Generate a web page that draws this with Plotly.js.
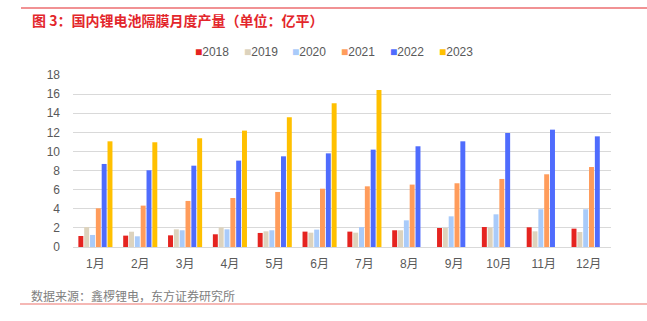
<!DOCTYPE html>
<html>
<head>
<meta charset="utf-8">
<script src="https://cdn.plot.ly/plotly-3.0.1.min.js"></script>
<style>
html,body{margin:0;padding:0;background:#fff;}
#chart{width:647px;height:321px;}
</style>
</head>
<body>
<div id="chart"></div>
<script>
const months = ["1月","2月","3月","4月","5月","6月","7月","8月","9月","10月","11月","12月"];
const years = ["2018","2019","2020","2021","2022","2023"];
const colors = ["#E52420","#DDD3BD","#A9CBFA","#FF9C5B","#4F6CFD","#FFC000"];
const v2018 = [1.15,1.19,1.22,1.33,1.47,1.61,1.61,1.75,1.99,2.09,2.06,1.92];
const v2019 = [2.09,1.60,1.85,2.06,1.64,1.50,1.50,1.75,1.99,2.02,1.64,1.57];
const v2020 = [1.26,1.12,1.75,1.85,1.75,1.82,2.09,2.79,3.21,3.42,3.95,3.95];
const v2021 = [4.05,4.33,4.82,5.13,5.76,6.10,6.35,6.53,6.67,7.12,7.61,8.37];
const v2022 = [8.69,8.03,8.51,9.04,9.49,9.80,10.19,10.54,11.06,11.93,12.28,11.58];
const v2023 = [11.06,10.96,11.38,12.18,13.57,15.04,16.43,null,null,null,null,null];
const series = [v2018,v2019,v2020,v2021,v2022,v2023];
const yTicks = [0,2,4,6,8,10,12,14,16,18];
const titleText = "图 3：国内锂电池隔膜月度产量（单位：亿平）";
const sourceText = "数据来源：鑫椤锂电，东方证券研究所";

const L = 73, R = 36, T = 75, B = 74, W = 647, H = 321;
const pw = W - L - R, ph = H - T - B;
const px = x => (x - L) / pw;
const py = y => (H - B - y) / ph;

const font = "Liberation Sans, Arial, Noto Sans CJK SC, sans-serif";

const traces = years.map((yr, i) => ({
  type: "bar",
  name: yr,
  x: months,
  y: series[i],
  marker: {color: colors[i], line: {width: 0}},
  hoverinfo: "x+y+name"
}));

const legendX = [194, 243, 291, 340, 389, 438];
const annotations = years.map((yr, i) => ({
  xref: "paper", yref: "paper",
  x: px(legendX[i] - 1), y: py(52),
  xanchor: "left", yanchor: "middle",
  showarrow: false,
  text: "<span style='color:" + colors[i] + ";font-size:12px'>■</span>" + yr,
  font: {family: font, size: 12, color: "#595959"}
}));
annotations.push({
  xref: "paper", yref: "paper", x: px(30), y: py(20),
  xanchor: "left", yanchor: "middle", showarrow: false,
  text: "<b>" + titleText + "</b>",
  font: {family: "Noto Sans CJK SC, sans-serif", size: 14, color: "#E3262B"}
});
annotations.push({
  xref: "paper", yref: "paper", x: px(29), y: py(295),
  xanchor: "left", yanchor: "middle", showarrow: false,
  text: sourceText,
  font: {family: "Noto Sans CJK SC, sans-serif", size: 12, color: "#808080"}
});

const layout = {
  width: W, height: H,
  margin: {l: L, r: R, t: T, b: B, pad: 0},
  paper_bgcolor: "#fff", plot_bgcolor: "#fff",
  showlegend: false,
  barmode: "group",
  bargap: 0.22,
  bargroupgap: 0.15,
  font: {family: font, size: 12, color: "#595959"},
  xaxis: {
    type: "category",
    showgrid: false,
    showline: true, linecolor: "#D9D9D9", linewidth: 1,
    ticks: "", ticklabelstandoff: 6,
    tickfont: {family: font, size: 12, color: "#595959"},
    fixedrange: true
  },
  yaxis: {
    range: [0, 18],
    tickvals: yTicks,
    ticktext: yTicks.map(String),
    showgrid: true, gridcolor: "#D9D9D9", gridwidth: 1,
    zeroline: false, showline: false,
    ticks: "", ticklabelstandoff: 12,
    tickfont: {family: font, size: 12, color: "#595959"},
    fixedrange: true
  },
  shapes: [
    {type: "line", xref: "paper", yref: "paper", x0: px(21), x1: px(647), y0: py(8), y1: py(8),
     line: {color: "#E3262B", width: 1.2}},
    {type: "line", xref: "paper", yref: "paper", x0: px(20), x1: px(647), y0: py(304), y1: py(304),
     line: {color: "#F2A09C", width: 1.5}}
  ],
  annotations: annotations
};

Plotly.newPlot("chart", traces, layout, {displayModeBar: false, staticPlot: true});
</script>
</body>
</html>
